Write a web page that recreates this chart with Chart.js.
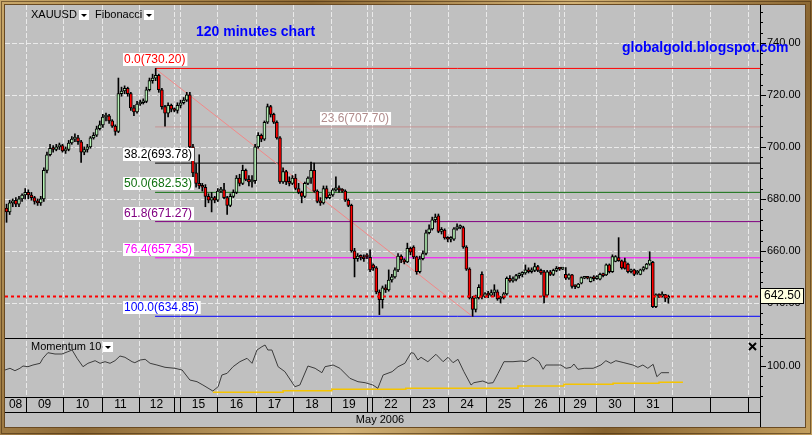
<!doctype html>
<html lang="en">
<head>
<meta charset="UTF-8" />
<title>XAUUSD 120 minutes chart</title>
<script src="https://cdn.jsdelivr.net/npm/chart.js"></script>
<style>
  html, body { margin: 0; padding: 0; background: #c0c0c0; }
  canvas { display: block; }
</style>
</head>
<body>
<canvas id="gold" width="812" height="435"></canvas>
<script>
// time axis is in "slots": one slot per 2-hour bar
const dayLabels = ["08","09","10","11","12","","15","16","17","18","19","","22","23","24","25","26","","29","30","31","","",""];
const dayEdges = [0,6.8,18.7,31.2,43.1,54.4,56.3,68.2,80.8,92.7,104.9,116.5,118.1,130.3,142.6,154.8,166.7,178.3,179.9,190.2,202.4,214.7,226.9,239.1,243];
const monthLabel = "May 2006";

const candleOpen = [676.5,675,678.5,679.5,678,680,681.5,682.5,681.5,680.5,679,678.5,680,691,697,699.5,699,700,700.5,698.5,699,701.5,703,703.5,702,698,699,700,703.5,704.5,707,708.5,711.5,712,710,708,706,720.5,721.5,722.5,720.5,715,713.5,716.5,717,717.5,722,725.5,726.5,727.5,722,715.5,713,716,714.5,714,716,717,718,720,700,690,686,685,684.5,681,679.5,680.5,679.5,683,683.5,680.5,677.5,681,682.5,688,686,691,687.5,686.5,687,700,704.5,703,709.5,715.5,712.5,709.5,703.5,686.5,690.5,686.5,686,688,684,682.5,681,686,688,691,683,679,678.5,684,680.5,681.5,683.5,684,683.5,683,679.5,677.5,660,657,658,657.5,658.5,657.5,654.6,653.5,644.2,641.2,645.8,645,648.8,650,652.7,658,656.5,655.8,661,661.5,657.7,652,657,659,667,668.5,672,673.5,667.5,668,665,664.5,664.5,668.5,669,669,661.5,653,642,637.5,642,651,642.5,643.5,643,644,644.3,641.5,642,643.5,649.5,648.5,649,650.5,651,651.5,652.7,652,652.5,654,652.5,652,643,652,651,652.5,653.3,653,651,649.5,650.8,646.3,646,647.6,649.5,649.6,648.2,649.7,649.3,649.1,651,650.8,654.6,652,656,657.4,656.2,655.9,654.9,652,652.7,651.5,651,652.7,653.3,654.9,655.6,638.6,643.1,642.6,643.2,641.8];
const candleHigh = [678,679.5,680,680.5,681,682,684,683.5,682.5,681,680,681,692,698,701,700.5,701,701.5,701,700,702.5,704,705,704.5,702.5,700,701,704,705.5,708,710,712.5,713,712.5,710.5,708.5,726.5,723,723.5,723,721,716,717.5,718,718.5,723,726.5,728,730.2,728,722.5,716,717,716.5,715,717,718,719,721,721,701,693.5,697,686,685.5,682,682.5,681,684,684.5,686,681,682,683.5,689,689.5,693,691.5,689,689,701,705.5,705,710,716.5,716,713,710,704,692,691,688.5,689,689.5,686,683,686.5,688.5,694.2,693.8,683.5,680.5,685,685,682,684,688.5,685,684,683.5,680,678,661,659,658.5,658.5,659,660.4,655,654,645,646.5,647,652.7,651,653.5,659,658.5,657,663,661.5,662,658,658,660,668,670,673,674.2,674.2,669,668.5,665.5,665.5,669,670.4,670,669.5,662,653.5,642.5,643,647,652,644,644.5,645,647,645,642.5,644,650,650.5,650,651,651.5,652,654.6,653.5,653.5,655.3,654.5,653,652.5,652.5,652.5,653,654,653.5,653.5,653.6,651.2,651,647,647.5,650,649.8,649.8,650,650.5,650.5,651.5,651.5,655,655,658.5,658.2,665.1,656.5,657.2,655.3,653,653,652.5,653,654,655.2,659.7,656,643.5,643.5,644.3,643.3,643];
const candleLow = [671,674,677,677,677,679,680,680,679.5,678,677.5,677.5,679,690,696.5,698,698.5,699,698,697.5,698.5,701,702,701,694,697,698,699.5,703,704,706.5,707.5,710,709,707.5,704.5,705.5,719.5,720.5,719.5,714,712,713,716,716.5,717,721.5,724.5,725.5,721,714.5,708,711.5,713.5,713.5,713,715,716.5,717.5,698,688,684.5,684,683,677,678.5,675,678.5,679,682.5,680,674,677,680.5,682,685,685.5,687,685,684.5,686,699.5,702,702.5,709,711.5,709,703,686,686,685.5,685,685.5,683.5,682,678.5,680.5,685.5,686,682.5,678.5,677.5,678,680,680,681,683,682.5,682.5,679,677,659.5,650,656,656.5,656,657,652,652.5,643.5,635.5,638,644,644.5,648,649.5,652,655.5,655,655.5,658.5,657,651,651.5,656.5,658.5,666.5,668,671,667,666.5,664.5,663.5,663.5,664,668,668.5,661,652.5,641.5,634.85,636.5,641.5,641.5,642,642,642.5,642.5,641,640,641.5,643,648,648,648.5,649.5,650,651,651.5,651.5,652,652,651,640,642.5,650.5,650.5,652,652.5,652.8,649,649,645.7,645.5,645.8,647.3,649.3,649.2,648,648.5,649,648.8,650,650.5,651.5,651.7,655.8,656,653,653,651.5,651.5,650.5,651,650.8,652.2,653,654.5,638.2,638.2,642,642.2,640.5,639.9];
const candleClose = [675,678.5,679,678,680,681.5,682.5,681.5,680.5,679,678.5,680,691,697,699.5,699,700,700.5,698.5,699,701.5,703,703.5,702,698,699,700,703.5,704.5,707,708.5,711.5,712,710,708,706,720.5,721.5,722.5,720.5,715,713.5,716.5,717,717.5,722,725.5,726.5,727.5,722,715.5,713,716,714.5,714,716,717,718,720,700,690,686,685,684.5,681,679.5,680.5,679.5,683,683.5,680.5,677.5,681,682.5,688,686,691,687.5,686.5,687,700,704.5,703,709.5,715.5,712.5,709.5,703.5,686.5,690.5,686.5,686,688,684,682.5,681,686,688,691,683,679,678.5,684,680.5,681.5,683.5,684,683.5,683,679.5,677.5,660,657,658,657.5,657,657.7,652.7,653.5,644.2,641.2,645.8,645,648.8,650,652.7,658,656.5,655.8,661,659.5,657.7,652,657,659,667,668.5,672,673,667.5,668,665,664.5,664.5,668.5,669,669.5,661.5,653,642,637.5,642,646,642.5,643.5,643,644,645,641.5,642,643.5,649.5,648.5,649,650.5,651,651.5,652.7,652,652.5,654,652.5,651.5,642.5,652,651,652.5,653.3,653,653.3,649.5,650.8,646.3,646.2,647.2,649.7,649.6,649.5,649.7,649.3,650.1,651,650.5,654.6,652,657.8,657.8,656.2,653.5,653.3,652,652.5,651,651.8,652.7,653.6,654.9,656.5,638.6,643.1,642.6,643.2,641.8,642.5];
const lastPrice = 642.50;

// Fibonacci retracement of the 730.20 -> 634.85 swing
const fibRatios = ["0.0","23.6","38.2","50.0","61.8","76.4","100.0"];
const fibLevels = [730.20,707.70,693.78,682.53,671.27,657.35,634.85];
const swingHighSlot = 48.3;
const swingLowSlot = 150.4;

const priceTicks = [640,660,680,700,720,740];

// Momentum(10) indicator and its signal
const momSlot = [0,1.6,3.2,4.8,5.8,7.4,9,11.3,12.2,13.8,16.1,18.3,20,21.6,23.2,25.1,26.7,29,30.6,32.2,33.8,35.4,37,38.6,40.9,41.8,43.5,45.1,46.7,48.9,51.5,54.7,57,59.5,61.8,63.7,66.9,68.6,69.8,71.5,73.4,75.6,77.9,79.5,81.1,82.7,83.7,84.6,85.9,87.9,90.1,93.3,94.9,97.5,99.8,102,103,105.6,107.8,111,113.6,115.9,118.4,120,121.7,124.6,126.5,128.7,130.7,131.6,132.9,133.9,136.1,138.7,141,142.6,144.2,145.8,147.7,150,150.9,153.8,155.5,157.1,158.7,160.6,163.5,166.1,167.7,169.9,171.9,173.2,174.1,176.4,178.9,180.6,182.2,183.1,184.4,186.4,189.3,191.8,193.4,195,196.6,199.2,202.1,203.7,205.3,206.9,208.6,209.8,211.2,213.7];
const momValue = [99.6,99.77,99.53,99.77,100,99.93,100.1,100.27,100.77,101.33,101.2,101.2,101.4,101.6,100.77,99.93,100.27,100.53,100.27,100.43,100.27,100.53,101,100.87,100.43,100.33,100.6,100.67,100.27,100.1,99.87,99.77,99.6,98.6,98.43,98.1,97.5,97.93,99.1,99.27,99.93,100.43,100.77,100.27,101.6,101.93,102.1,101.6,101.6,99.93,99.43,97.93,98.1,100,99.77,99.33,99.93,100.1,99.77,98.77,98.43,98.33,98.1,97.77,99.1,99.43,99.93,100.27,101.33,101.27,100.6,100.87,100.43,101.17,100.43,100.87,100.33,100.67,99.43,98.1,98.33,98.5,98.27,98.33,99.27,100.43,100.43,100.5,100.43,100.87,100.43,99.67,100.1,100.1,100.1,99.77,99.87,100.2,99.67,99.77,99.77,100.1,100.53,100.27,100.53,100.33,100.1,99.87,100.1,99.77,100.17,98.93,99.33,99.33];
const sigSlot = [66.9,89.5,105.2,129,165.1,179.9,195.7,210.5,218.2];
const sigValue = [97.37,97.53,97.67,97.77,98,98.17,98.27,98.37,98.37];

// ---- layout of the two panels sharing one chart area ----
const FONT = '"Liberation Sans", Arial, sans-serif';
const H_MAIN = 333, H_MOM = 59;
const priceTop = 754.6, priceBottom = 626.5;
const momTop = 102.8, momBottom = 96.9;
const priceMin = priceBottom - (priceTop - priceBottom) * H_MOM / H_MAIN;
const momMax = momTop + (momTop - momBottom) * H_MAIN / H_MOM;
const slotMax = dayEdges[dayEdges.length - 1];

const fibColors = ["#ff0000","#c49494","#000000","#107010","#800080","#ff00ff","#0000ff"];
const fibTextColors = ["#ff0000","#b08c8c","#000000","#107010","#800080","#ff00ff","#0000ff"];
const fibLabelShift = [-32, 165, -32, -32, -32, -32, -32];

const wicks = candleHigh.map((h, i) => ({ x: i + 0.5, y: [candleLow[i], h] }));
const bodies = candleOpen.map((o, i) => ({ x: i + 0.5, y: [o, candleClose[i]] }));
const bodyFill = candleOpen.map((o, i) => candleClose[i] >= o ? "#b4f0b4" : "#ff0000");

const datasets = [
    {
        type: "bar", data: bodies, backgroundColor: bodyFill, borderColor: "#000",
        borderWidth: 1, borderSkipped: false, barThickness: 3, minBarLength: 2,
        grouped: false, yAxisID: "y", order: 1
    },
    {
        type: "bar", data: wicks, backgroundColor: "#000", borderWidth: 0,
        barThickness: 1, grouped: false, yAxisID: "y", order: 2
    },
    {
        type: "line", yAxisID: "y", order: 3, borderColor: "#f38888", borderWidth: 1,
        pointRadius: 0, data: [{ x: swingHighSlot, y: fibLevels[0] }, { x: swingLowSlot, y: fibLevels[6] }]
    },
    {
        type: "line", yAxisID: "y", order: 0, borderColor: "#ff0000", borderWidth: 2,
        borderDash: [3, 3], pointRadius: 0, data: [{ x: 0, y: lastPrice }, { x: slotMax, y: lastPrice }]
    },
    {
        type: "line", yAxisID: "m", order: 0, borderColor: "#3c3c3c", borderWidth: 1,
        pointRadius: 0, data: momSlot.map((s, i) => ({ x: s, y: momValue[i] }))
    },
    {
        type: "line", yAxisID: "m", order: 0, borderColor: "#f5c400", borderWidth: 1.5,
        stepped: true, pointRadius: 0, data: sigSlot.map((s, i) => ({ x: s, y: sigValue[i] }))
    }
];
fibLevels.forEach((lvl, i) => {
    datasets.push({
        type: "line", yAxisID: "y", order: 4, borderColor: fibColors[i], borderWidth: 1,
        pointRadius: 0, data: [{ x: swingHighSlot, y: lvl }, { x: slotMax, y: lvl }]
    });
});

function hLine(c, x1, x2, y) {
    c.beginPath(); c.moveTo(x1, Math.round(y) + 0.5); c.lineTo(x2, Math.round(y) + 0.5); c.stroke();
}
function vLine(c, x, y1, y2) {
    c.beginPath(); c.moveTo(Math.round(x) + 0.5, y1); c.lineTo(Math.round(x) + 0.5, y2); c.stroke();
}
function dropBox(c, x, y) {
    c.fillStyle = "#fff";
    c.fillRect(x, y, 10, 10);
    c.fillStyle = "#000";
    c.beginPath(); c.moveTo(x + 2, y + 4); c.lineTo(x + 8, y + 4); c.lineTo(x + 5, y + 7); c.closePath(); c.fill();
}

const background = {
    id: "background",
    beforeDraw(chart) {
        const c = chart.ctx, a = chart.chartArea, xs = chart.scales.x, ys = chart.scales.y;
        c.save();
        // gilded wooden frame
        const g = c.createLinearGradient(0, 0, 812, 435);
        g.addColorStop(0, "#c9a86a"); g.addColorStop(0.3, "#8e6a36");
        g.addColorStop(0.55, "#d2b276"); g.addColorStop(0.8, "#86622e"); g.addColorStop(1, "#c4a060");
        c.fillStyle = g;
        c.fillRect(0, 0, 812, 435);
        c.strokeStyle = "rgba(70,45,15,0.6)";
        c.lineWidth = 1;
        c.strokeRect(1.5, 1.5, 809, 432);
        c.fillStyle = "#c0c0c0";
        c.fillRect(5, 5, 800, 422);
        c.strokeStyle = "#6a4a22";
        c.strokeRect(4.5, 4.5, 801, 423);

        // dashed grid
        c.strokeStyle = "rgba(236,236,236,0.95)";
        c.setLineDash([5, 2]);
        dayEdges.slice(1, -1).forEach(e => vLine(c, xs.getPixelForValue(e), a.top, a.bottom));
        priceTicks.forEach(t => hLine(c, a.left, a.right, ys.getPixelForValue(t)));
        c.restore();
    }
};

const overlay = {
    id: "overlay",
    afterDraw(chart) {
        const c = chart.ctx, a = chart.chartArea, xs = chart.scales.x, ys = chart.scales.y, ms = chart.scales.m;
        c.save();
        c.strokeStyle = "#000";
        c.lineWidth = 1;
        const split = ms.getPixelForValue(momTop);
        hLine(c, a.left, 805, split);
        vLine(c, a.right, a.top, 427);

        // price axis
        c.font = "11px " + FONT;
        c.fillStyle = "#000";
        c.textBaseline = "middle";
        c.textAlign = "left";
        for (let v = 628; v <= 752; v += 4) {
            const y = Math.round(ys.getPixelForValue(v)) + 0.5;
            if (y > split) continue;
            const major = priceTicks.includes(v);
            c.beginPath(); c.moveTo(a.right, y); c.lineTo(a.right + (major ? 6 : 3), y); c.stroke();
        }
        priceTicks.forEach(t => c.fillText(t.toFixed(2), a.right + 7, ys.getPixelForValue(t)));

        // momentum axis
        for (let v = 97; v <= 102; v += 1) {
            const y = Math.round(ms.getPixelForValue(v)) + 0.5;
            c.beginPath(); c.moveTo(a.right, y); c.lineTo(a.right + (v === 100 ? 6 : 3), y); c.stroke();
        }
        c.fillText("100.00", a.right + 7, ms.getPixelForValue(100));

        // date row
        const rowB = a.bottom + 15;
        hLine(c, a.left, a.right, a.bottom);
        hLine(c, a.left, a.right, rowB);
        dayEdges.slice(1, -1).forEach(e => vLine(c, xs.getPixelForValue(e), a.bottom, rowB));
        c.textAlign = "center";
        c.font = "12px " + FONT;
        dayLabels.forEach((lab, i) => {
            if (!lab) return;
            const mid = (xs.getPixelForValue(dayEdges[i]) + xs.getPixelForValue(dayEdges[i + 1])) / 2;
            c.fillText(lab, mid, a.bottom + 8);
        });
        c.font = "11px " + FONT;
        c.fillText(monthLabel, 380, rowB + 8);

        // Fibonacci labels
        const fx = xs.getPixelForValue(swingHighSlot);
        c.textAlign = "left";
        c.font = "12px " + FONT;
        fibLevels.forEach((lvl, i) => {
            const txt = fibRatios[i] + "(" + lvl.toFixed(2) + ")";
            const w = c.measureText(txt).width + 3;
            const y = ys.getPixelForValue(lvl);
            const x = Math.round(fx + fibLabelShift[i]);
            c.fillStyle = "#fff";
            c.fillRect(x, Math.round(y) - 15, w, 13);
            c.fillStyle = fibTextColors[i];
            c.fillText(txt, x + 1, Math.round(y) - 8);
        });

        // last price tag
        c.font = "12px " + FONT;
        const ly = Math.round(ys.getPixelForValue(lastPrice));
        c.fillStyle = "#ffffe1";
        c.fillRect(a.right + 0.5, ly - 7.5, 43, 15);
        c.strokeStyle = "#000";
        c.strokeRect(a.right + 0.5, ly - 7.5, 43, 15);
        c.fillStyle = "#000";
        c.fillText(lastPrice.toFixed(2), a.right + 4, ly);

        // headers
        c.font = "11px " + FONT;
        c.fillText("XAUUSD", 31, 15);
        dropBox(c, 79, 10);
        c.fillText("Fibonacci", 95, 15);
        dropBox(c, 144, 10);
        c.fillText("Momentum 10", 31, split + 9);
        dropBox(c, 103, split + 4);

        // close cross
        c.lineWidth = 2;
        c.beginPath();
        c.moveTo(749, split + 5); c.lineTo(756, split + 12);
        c.moveTo(756, split + 5); c.lineTo(749, split + 12);
        c.stroke();

        c.font = "bold 14px " + FONT;
        c.fillStyle = "#0000ff";
        c.fillText("120 minutes chart", 196, 32);
        c.fillText("globalgold.blogspot.com", 622, 48);
        c.restore();
    }
};

new Chart(document.getElementById("gold"), {
    type: "bar",
    data: { datasets: datasets },
    options: {
        responsive: false,
        animation: false,
        devicePixelRatio: 1,
        layout: { padding: { left: 5, top: 5, right: 52, bottom: 38 } },
        plugins: { legend: { display: false }, tooltip: { enabled: false } },
        scales: {
            x: { type: "linear", min: 0, max: slotMax, offset: false, display: false },
            y: { type: "linear", min: priceMin, max: priceTop, display: false },
            m: { type: "linear", min: momBottom, max: momMax, display: false }
        }
    },
    plugins: [background, overlay]
});
</script>
</body>
</html>
